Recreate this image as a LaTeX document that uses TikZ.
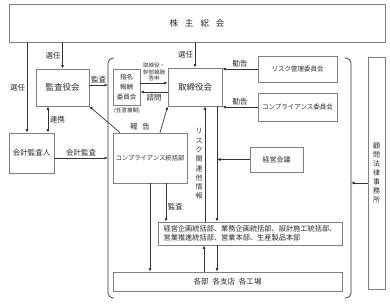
\documentclass[tikz,border=0pt]{standalone}
\usepackage{fontspec}
\setmainfont{Noto Sans CJK JP}
\usetikzlibrary{positioning}
\usetikzlibrary{arrows.meta}

\begin{document}
\begin{tikzpicture}[x=1pt,y=-1pt,
    box/.style={draw=gray, line width=0.7pt, inner sep=0pt, align=center, text=black!85},
    lbl/.style={font=\fontsize{7.5}{9}\selectfont, inner sep=1.5pt, text=black!85},
    arr/.style={-{Latex[length=3.5pt,width=3pt]}, line width=0.7pt, black!80}]

    \useasboundingbox (0,0) rectangle (390,303);

    % Boxes
    \node[box, minimum width=376pt, minimum height=38pt, font=\fontsize{8.5}{10}\selectfont] (soukai) at (197,23) {株\hspace{7pt}主\hspace{7pt}総\hspace{7pt}会};
    \node[box, minimum width=53pt, minimum height=37pt, font=\fontsize{8.5}{10}\selectfont] (kansa) at (62.5,87.5) {監査役会};
    \node[box, minimum width=45pt, minimum height=40pt, font=\fontsize{7.5}{9}\selectfont] (kaikei) at (31.5,153) {会計監査人};
    \node[box, minimum width=27pt, minimum height=36pt, font=\fontsize{6.5}{10}\selectfont] (shimei) at (126.5,87) {指名\\報酬\\委員会};
    \node[box, minimum width=54pt, minimum height=38pt, font=\fontsize{8.5}{10}\selectfont] (torishimari) at (195,87) {取締役会};
    \node[box, minimum width=79pt, minimum height=26pt, font=\fontsize{6.5}{8}\selectfont] (risk) at (297.5,69) {リスク管理委員会};
    \node[box, minimum width=79pt, minimum height=28pt, font=\fontsize{6.5}{8}\selectfont] (compc) at (297.5,107) {コンプライアンス委員会};
    \node[box, minimum width=74pt, minimum height=50pt, font=\fontsize{6.3}{8}\selectfont] (compb) at (150,158) {コンプライアンス統括部};
    \node[box, minimum width=53pt, minimum height=25pt, font=\fontsize{7}{9}\selectfont] (keiei) at (276.5,159.5) {経営会議};
    \node[box, minimum width=184pt, minimum height=23pt, align=left, font=\fontsize{7.2}{9.5}\selectfont] (toukatsu) at (250,233.5) {経営企画統括部、業務企画統括部、設計施工統括部、\\営業推進統括部、営業本部、生産製品本部};
    \node[box, minimum width=229pt, minimum height=19pt, font=\fontsize{7.5}{9}\selectfont] (kakubu) at (227.5,281.5) {各部\hspace{4pt}各支店\hspace{4pt}各工場};
    \node[box, minimum width=17pt, minimum height=232pt, font=\fontsize{7}{9}\selectfont] (komon) at (376.5,173) {顧\\問\\法\\律\\事\\務\\所};
    \node[lbl, font=\fontsize{5.5}{7}\selectfont] (nini) at (127,111) {(任意機関)};

    % Bracket round the company
    \draw[line width=0.7pt, black!80, rounded corners=5pt] (114,58) -- (108,58) -- (108,298) -- (114,298);
    \draw[line width=0.7pt, black!80, rounded corners=5pt] (345,58) -- (351,58) -- (351,298) -- (345,298);
    \coordinate (bl) at (108,0);
    \coordinate (br) at (351,0);
    \coordinate (renkei) at (48,0);
    \coordinate (up) at (205,0);
    \coordinate (down) at (217,0);

    % Appointment
    \draw[arr] (soukai.south -| kansa.north) -- node[lbl, left] (sen1) {選任} (kansa.north);
    \draw[arr] (soukai.south -| torishimari.north) -- node[lbl, left] (sen2) {選任} (torishimari.north);
    \draw[arr] ([xshift=-4.5pt]kaikei.north |- soukai.south) -- node[lbl, left] (sen3) {選任} ([xshift=-4.5pt]kaikei.north);

    % Audit
    \draw[{Latex[length=3.5pt,width=3pt]}-{Latex[length=3.5pt,width=3pt]}, line width=0.7pt, black!80] (renkei |- kansa.south) -- node[lbl, right] (renkeil) {連携} (renkei |- kaikei.north);
    \draw[arr] ([yshift=2.5pt]kansa.east) -- node[lbl, above] (kansal) {監査} ([yshift=2.5pt]kansa.east -| bl);
    \draw[arr] ([yshift=-5pt]kaikei.east) -- node[lbl, above] (kaikeil) {会計監査} ([yshift=-5pt]kaikei.east -| bl);

    % Nomination committee
    \draw[arr] ([yshift=4pt]shimei.east) -- node[above, align=center, inner sep=1.5pt, font=\fontsize{5.5}{6.5}\selectfont] (toushin) {取締役・\\幹部報酬\\答申} ([yshift=4pt]shimei.east -| torishimari.west);
    \draw[arr] ([yshift=-5pt]torishimari.west) -- node[lbl, below] (shimon) {諮問} ([yshift=-5pt]torishimari.west -| shimei.east);

    % Committees
    \draw[arr] (risk.west) -- node[lbl, above] (kankoku1) {勧告} (risk.west -| torishimari.east);
    \draw[arr] (compc.west) -- node[lbl, above] (kankoku2) {勧告} (compc.west -| torishimari.east);

    % Reports
    \draw[arr] ([xshift=-30pt]compb.north) -- (kansa.south east);
    \draw[arr] ([xshift=10pt]compb.north) -- (torishimari.south west);
    \node[lbl] (houkoku) at (140,127) {報\hspace{5pt}告};

    % Risk information
    \draw[arr] (up |- toukatsu.north) -- node[left, align=center, inner sep=2pt, font=\fontsize{7}{9.3}\selectfont] (joho) {リ\\ス\\ク\\関\\連\\他\\情\\報} (up |- torishimari.south);
    \draw[arr] (down |- torishimari.south) -- (down |- toukatsu.north);
    \draw[arr] (keiei.west) -- (keiei.west -| down);

    % Compliance audit
    \draw[arr] (compb.south) -- (compb.south |- kakubu.north);
    \draw[arr] ([xshift=16pt]compb.south) -- node[lbl, right, pos=0.6] (kansa2) {監査} ([xshift=16pt]compb.south |- toukatsu.north);

    % Divisions
    \draw[arr] ([xshift=-1pt]up |- kakubu.north) -- ([xshift=-1pt]up |- toukatsu.south);
    \draw[arr] (down |- toukatsu.south) -- (down |- kakubu.north);

    % Law firm
    \draw[arr] ([yshift=-10pt]komon.west) -- ([yshift=-10pt]komon.west -| br);
\end{tikzpicture}
\end{document}
